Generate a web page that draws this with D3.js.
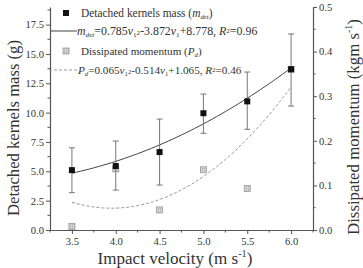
<!DOCTYPE html>
<html>
<head>
<meta charset="utf-8">
<script src="https://cdn.jsdelivr.net/npm/d3@7"></script>
<style>
  body { margin: 0; background: #fff; }
  svg text { font-family: "Liberation Serif", "DejaVu Serif", serif; fill: #333; }
</style>
</head>
<body>
<svg id="chart" width="363" height="268"></svg>
<script>
"use strict";
// impact velocities (m s-1)
const velocity = [3.5, 4.0, 4.5, 5.0, 5.5, 6.0];
// detached kernels mass (g) with error bar low / high
const massMean = [5.1, 5.45, 6.64, 9.95, 10.96, 13.7];
const massLow = [3.18, 3.4, 3.83, 8.24, 8.58, 10.56];
const massHigh = [7.0, 7.58, 9.45, 11.58, 13.46, 16.7];
// dissipated momentum (kgm s-1)
const momentum = [0.008, 0.137, 0.045, 0.135, 0.093, 0.36];
// fit coefficients
const massFit = [0.785, -3.872, 8.778];
const momentumFit = [0.065, -0.514, 1.065];
const xTicks = [3.5, 4.0, 4.5, 5.0, 5.5, 6.0];
const leftTicks = [0, 2.5, 5, 7.5, 10, 12.5, 15, 17.5];
const rightTicks = [0, 0.1, 0.2, 0.3, 0.4, 0.5];

const serif = "'Liberation Serif', 'DejaVu Serif', serif";
const svg = d3.select("#chart").attr("font-family", serif);
const margin = { left: 50, right: 50, top: 7, bottom: 38 };
const width = 363, height = 268;
const axisColor = "#555";

const x = d3.scaleLinear().domain([3.25, 6.25]).range([margin.left, width - margin.right]);
const yL = d3.scaleLinear().domain([0, 19]).range([height - margin.bottom, margin.top]);
const yR = d3.scaleLinear().domain([0, 0.5]).range([height - margin.bottom, margin.top]);

// shrink/grow a text so that it spans w pixels (font fallback safe)
function fitText(t, w) {
    const fs = +t.attr("font-size");
    const bw = t.node().getBBox().width;
    if (bw > 0) t.attr("font-size", fs * w / bw);
    return t;
}

// tick label size from the width of "17.5" in the reference (~19px)
const probe = svg.append("text").attr("font-size", 11).text("17.5");
const tickSize = 11 * 19 / probe.node().getBBox().width;
probe.remove();

function styleAxis(g) {
    g.attr("font-family", serif);
    g.selectAll("path").attr("stroke", axisColor).attr("stroke-width", 1.2);
    g.selectAll("line").attr("stroke", axisColor);
    g.selectAll("text").attr("font-size", tickSize).attr("fill", "#333").attr("font-family", serif);
}

// minor ticks
const xMinor = d3.range(3.25, 6.26, 0.25).filter(v => !xTicks.some(t => Math.abs(t - v) < 1e-6));
const lMinor = d3.range(1.25, 19, 2.5);
const rMinor = d3.range(0.05, 0.5, 0.1);

const gx = svg.append("g").attr("transform", `translate(0,${yL(0)})`)
    .call(d3.axisBottom(x).tickValues(xTicks).tickFormat(d3.format(".1f")).tickSize(4).tickSizeOuter(0).tickPadding(3));
styleAxis(gx);
gx.selectAll(".minor").data(xMinor).enter().append("line")
    .attr("x1", d => x(d)).attr("x2", d => x(d)).attr("y1", 0).attr("y2", 2.5).attr("stroke", axisColor);

const gl = svg.append("g").attr("transform", `translate(${margin.left},0)`)
    .call(d3.axisLeft(yL).tickValues(leftTicks).tickFormat(d3.format(".1f")).tickSize(4).tickSizeOuter(0).tickPadding(2));
styleAxis(gl);
gl.selectAll(".minor").data(lMinor).enter().append("line")
    .attr("y1", d => yL(d)).attr("y2", d => yL(d)).attr("x1", 0).attr("x2", -2.5).attr("stroke", axisColor);

const gr = svg.append("g").attr("transform", `translate(${width - margin.right},0)`)
    .call(d3.axisRight(yR).tickValues(rightTicks).tickFormat(d3.format(".1f")).tickSize(4).tickSizeOuter(0).tickPadding(2));
styleAxis(gr);
gr.selectAll(".minor").data(rMinor).enter().append("line")
    .attr("y1", d => yR(d)).attr("y2", d => yR(d)).attr("x1", 0).attr("x2", 2.5).attr("stroke", axisColor);

// axis titles
const lt = svg.append("text").attr("transform", `translate(19,128) rotate(-90)`)
    .attr("text-anchor", "middle").attr("font-size", 16).text("Detached kernels mass (g)");
fitText(lt, 176);
const xt = svg.append("text").attr("x", 175).attr("y", 264).attr("text-anchor", "middle").attr("font-size", 16);
xt.append("tspan").text("Impact velocity (m s");
xt.append("tspan").attr("font-size", "0.6em").attr("dy", "-0.65em").text("-1");
xt.append("tspan").attr("dy", "0.4em").text(")");
fitText(xt, 155);
const yt = svg.append("text").attr("transform", `translate(359,127) rotate(-90)`)
    .attr("text-anchor", "middle").attr("font-size", 16);
yt.append("tspan").text("Dissipated momentum (kgm s");
yt.append("tspan").attr("font-size", "0.6em").attr("dy", "-0.65em").text("-1");
yt.append("tspan").attr("dy", "0.4em").text(")");
fitText(yt, 216);

// fitted curves
const quad = c => v => c[0] * v * v + c[1] * v + c[2];
const fitXs = d3.range(3.5, 6.001, 0.05);
svg.append("path").datum(fitXs)
    .attr("d", d3.line().x(v => x(v)).y(v => yL(quad(massFit)(v))))
    .attr("fill", "none").attr("stroke", "#444").attr("stroke-width", 1);
svg.append("path").datum(fitXs)
    .attr("d", d3.line().x(v => x(v)).y(v => yR(quad(momentumFit)(v))))
    .attr("fill", "none").attr("stroke", "#999").attr("stroke-width", 1).attr("stroke-dasharray", "3,2");

// gray pattern for momentum markers
const defs = svg.append("defs");
const pat = defs.append("pattern").attr("id", "hatch").attr("width", 2).attr("height", 2)
    .attr("patternUnits", "userSpaceOnUse");
pat.append("rect").attr("width", 2).attr("height", 2).attr("fill", "#d4d4d4");
pat.append("rect").attr("width", 1).attr("height", 1).attr("fill", "#aaa");

const ms = 6;
svg.selectAll(".mom").data(velocity).enter().append("rect")
    .attr("x", (d) => x(d) - ms / 2).attr("y", (d, i) => yR(momentum[i]) - ms / 2)
    .attr("width", ms).attr("height", ms)
    .attr("fill", "url(#hatch)").attr("stroke", "#999").attr("stroke-width", 0.8);

// error bars
const eb = svg.append("g").attr("stroke", "#777").attr("stroke-width", 1);
velocity.forEach((v, i) => {
    eb.append("line").attr("x1", x(v)).attr("x2", x(v)).attr("y1", yL(massLow[i])).attr("y2", yL(massHigh[i]));
    eb.append("line").attr("x1", x(v) - 3).attr("x2", x(v) + 3).attr("y1", yL(massLow[i])).attr("y2", yL(massLow[i]));
    eb.append("line").attr("x1", x(v) - 3).attr("x2", x(v) + 3).attr("y1", yL(massHigh[i])).attr("y2", yL(massHigh[i]));
});
svg.selectAll(".mass").data(velocity).enter().append("rect")
    .attr("x", d => x(d) - ms / 2).attr("y", (d, i) => yL(massMean[i]) - ms / 2)
    .attr("width", ms).attr("height", ms).attr("fill", "#111");

// legend
const lg = svg.append("g");
const tx = 81;
function addText(yy, x0, parts, w) {
    const t = lg.append("text").attr("x", x0).attr("y", yy).attr("font-size", 11);
    parts.forEach(p => {
        const s = t.append("tspan").text(p.t);
        if (p.i) s.attr("font-style", "italic");
        if (p.sub) s.attr("font-size", "0.6em").attr("dy", "0.3em");
        if (p.sup) s.attr("font-size", "0.6em").attr("dy", "-0.35em");
        if (p.back) s.attr("dy", p.back);
    });
    return fitText(t, w);
}
lg.append("rect").attr("x", 66 - ms / 2).attr("y", 13 - ms / 2).attr("width", ms).attr("height", ms).attr("fill", "#111");
addText(17, tx, [{ t: "Detached kernels mass (" }, { t: "m", i: true }, { t: "det", i: true, sub: true }, { t: ")", back: "-0.18em" }], 132);
lg.append("line").attr("x1", 51).attr("x2", 77).attr("y1", 31).attr("y2", 31).attr("stroke", "#444");
addText(35, 77, [
    { t: "m", i: true }, { t: "det", i: true, sub: true }, { t: "=0.785", back: "-0.18em" },
    { t: "v", i: true }, { t: "1", sub: true }, { t: "2", sup: true }, { t: "-3.872", back: "0.03em" },
    { t: "v", i: true }, { t: "1", sub: true }, { t: "+8.778, ", back: "-0.18em" },
    { t: "R", i: true }, { t: "2", sup: true }, { t: "=0.96", back: "0.21em" }
], 181);
lg.append("rect").attr("x", 66 - ms / 2).attr("y", 51 - ms / 2).attr("width", ms).attr("height", ms)
    .attr("fill", "url(#hatch)").attr("stroke", "#999").attr("stroke-width", 0.8);
addText(55, tx, [{ t: "Dissipated momentum (" }, { t: "P", i: true }, { t: "d", i: true, sub: true }, { t: ")", back: "-0.18em" }], 121);
lg.append("line").attr("x1", 49).attr("x2", 77).attr("y1", 70).attr("y2", 70)
    .attr("stroke", "#999").attr("stroke-dasharray", "3,2");
addText(74, 78, [
    { t: "P", i: true }, { t: "d", i: true, sub: true }, { t: "=0.065", back: "-0.18em" },
    { t: "v", i: true }, { t: "1", sub: true }, { t: "2", sup: true }, { t: "-0.514", back: "0.03em" },
    { t: "v", i: true }, { t: "1", sub: true }, { t: "+1.065, ", back: "-0.18em" },
    { t: "R", i: true }, { t: "2", sup: true }, { t: "=0.46", back: "0.21em" }
], 165);
</script>
</body>
</html>
